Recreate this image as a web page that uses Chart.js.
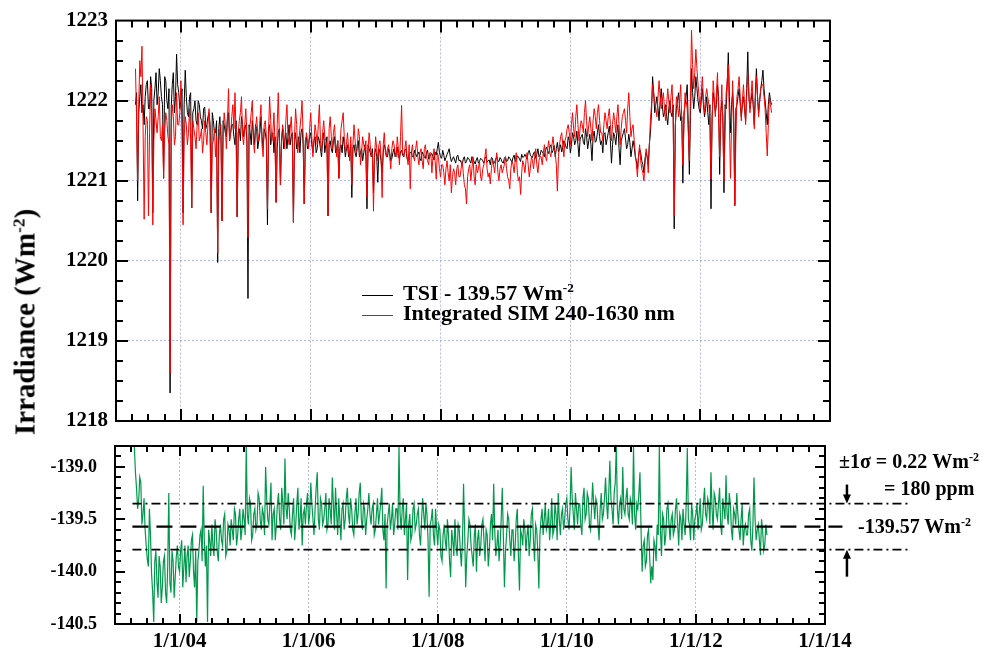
<!DOCTYPE html>
<html>
<head>
<meta charset="utf-8">
<script src="https://cdn.jsdelivr.net/npm/chart.js@4.4.1/dist/chart.umd.min.js"></script>
<style>
  html, body { margin: 0; padding: 0; background: #fff; }
  body { width: 1008px; height: 654px; position: relative; overflow: hidden;
         font-family: "Liberation Serif", "Times New Roman", serif; font-weight: bold; color: #000; }
  canvas { position: absolute; left: 0; top: 0; }
  .txt { position: absolute; white-space: nowrap; line-height: 1; }
  .txt sup { font-size: 0.6em; vertical-align: 0.6em; line-height: 0; }
  .key { position: absolute; height: 0; width: 31px; }
</style>
</head>
<body>
<canvas id="topChart" width="1008" height="654"></canvas>
<canvas id="diffChart" width="1008" height="654"></canvas>

<div class="txt" id="ytitle" style="font-size:29px;left:24.5px;top:322px;transform:translate(-50%,-50%) rotate(-90deg);">Irradiance (Wm<sup>-2</sup>)</div>

<div class="key" style="left:362px;top:295px;border-top:1px solid #000;"></div>
<div class="txt" style="font-size:22px;left:403px;top:282px;">TSI - 139.57 Wm<sup>-2</sup></div>
<div class="key" style="left:362px;top:315px;border-top:1px solid #f00;"></div>
<div class="txt" style="font-size:22px;left:403px;top:302px;">Integrated SIM 240-1630 nm</div>

<div class="txt" style="font-size:20px;left:839px;top:451px;">±1σ = 0.22 Wm<sup>-2</sup></div>
<div class="txt" style="font-size:20px;left:884px;top:478px;">= 180 ppm</div>
<div class="txt" style="font-size:20px;left:858px;top:516px;">-139.57 Wm<sup>-2</sup></div>

<script>
// sample times: every 1/30 year from spring 2003, plus the half-way samples (…Mid arrays)
const t0 = 2003.30;
const dt = 1 / 30;

// TSI minus 139.57 (black)
const tsi = [
1221.95,1220.75,1222.05,1221.85,1221.70,1222.20,1221.90,1222.30,1220.60,1222.15,
1221.95,1222.40,1222.05,1221.03,1222.25,1221.90,1218.35,1222.20,1221.85,1222.58,
1222.10,1222.00,1220.60,1222.38,1221.85,1222.05,1220.66,1221.90,1221.75,1222.00,
1221.80,1221.65,1221.92,1221.70,1221.85,1220.60,1221.75,1221.60,1219.98,1221.80,
1220.50,1221.70,1221.55,1221.85,1221.60,1221.70,1221.45,1220.55,1221.65,1221.80,
1221.55,1221.70,1219.53,1221.60,1221.75,1221.45,1221.65,1221.50,1221.80,1221.40,
1221.60,1220.45,1221.70,1221.55,1221.35,1220.73,1221.60,1220.95,1221.65,1221.50,
1221.40,1221.70,1221.55,1220.48,1221.60,1221.45,1221.35,1221.65,1220.71,1221.55,
1221.45,1221.60,1221.35,1221.55,1221.40,1221.50,1221.30,1221.60,1221.45,1220.56,
1221.50,1221.35,1221.55,1221.40,1221.03,1221.45,1221.55,1221.30,1221.45,1221.35,
1220.79,1221.45,1221.30,1221.50,1221.35,1221.25,1221.45,1220.65,1221.40,1221.30,
1220.85,1221.40,1220.98,1221.35,1221.10,1221.45,1221.30,1221.40,1221.25,1221.35,
1221.30,1221.42,1221.28,1221.38,1221.30,1221.40,1221.25,1221.35,1221.30,1221.38,
1221.30,1221.36,1221.25,1221.33,1221.28,1221.38,1221.30,1221.34,1221.26,1221.32,
1221.48,1221.30,1221.38,1221.25,1221.33,1221.40,1221.24,1221.30,1221.22,1221.32,
1221.26,1221.20,1221.30,1221.24,1221.28,1221.22,1221.27,1221.21,1221.29,1221.24,
1221.27,1221.22,1221.30,1221.25,1221.20,1221.28,1221.23,1221.30,1221.24,1221.27,
1221.22,1221.30,1221.25,1221.28,1221.23,1221.32,1221.26,1221.30,1221.24,1221.29,
1221.33,1221.27,1221.38,1221.30,1221.35,1221.28,1221.40,1221.32,1221.36,1221.30,
1221.42,1221.34,1221.45,1221.38,1221.30,1221.48,1221.40,1221.36,1221.50,1221.42,
1221.55,1221.35,1221.60,1221.45,1221.62,1221.30,1221.55,1221.48,1221.65,1221.40,
1221.58,1221.25,1221.62,1221.50,1221.70,1221.45,1221.35,1221.60,1221.52,1221.68,
1221.22,1221.60,1221.45,1221.70,1221.20,1221.55,1221.65,1221.40,1221.58,1221.30,
1221.50,1221.30,1221.15,1221.40,1221.25,1221.10,1221.35,1221.20,1221.60,1222.30,
1221.85,1222.05,1221.75,1222.15,1221.80,1221.95,1221.70,1222.00,1221.80,1220.40,
1221.90,1222.10,1221.75,1220.97,1221.95,1222.20,1221.08,1222.40,1221.90,1222.30,
1222.00,1221.85,1222.15,1221.80,1222.05,1221.70,1220.65,1222.10,1221.85,1222.20,
1221.08,1222.00,1220.85,1221.90,1222.60,1221.60,1222.10,1220.69,1221.95,1222.15,
1221.80,1222.05,1221.75,1222.61,1221.90,1222.10,1221.70,1222.40,1221.85,1222.15,
1222.38,1222.00,1221.70,1222.10,1221.95
];
const tsiMid = [
1222.10,1221.85,1222.20,1221.95,1222.05,1222.25,1221.90,1222.15,1222.00,1222.35,
1222.10,1222.25,1221.95,1222.30,1222.00,1222.15,1221.90,1222.35,1222.05,1222.20,
1221.90,1222.15,1221.95,1222.05,1221.80,1222.10,1221.85,1222.00,1221.70,1221.95,
1221.75,1221.90,1221.65,1221.80,1221.70,1221.85,1221.60,1221.75,1221.65,1221.55,
1221.75,1221.60,1221.80,1221.50,1221.70,1221.55,1221.75,1221.60,1221.50,1221.70,
1221.65,1221.50,1221.70,1221.45,1221.60,1221.70,1221.40,1221.60,1221.55,1221.65,
1221.50,1221.65,1221.45,1221.60,1221.55,1221.40,1221.65,1221.50,1221.40,1221.60,
1221.55,1221.45,1221.60,1221.50,1221.40,1221.55,1221.60,1221.45,1221.50,1221.40,
1221.55,1221.45,1221.50,1221.35,1221.55,1221.40,1221.50,1221.35,1221.55,1221.45,
1221.40,1221.50,1221.35,1221.50,1221.40,1221.35,1221.45,1221.40,1221.30,1221.45,
1221.40,1221.35,1221.45,1221.30,1221.40,1221.35,1221.30,1221.45,1221.35,1221.40,
1221.35,1221.30,1221.40,1221.25,1221.35,1221.40,1221.30,1221.35,1221.28,1221.40,
1221.35,1221.30,1221.36,1221.32,1221.38,1221.28,1221.33,1221.36,1221.30,1221.34,
1221.33,1221.28,1221.36,1221.30,1221.35,1221.27,1221.33,1221.30,1221.36,1221.40,
1221.35,1221.28,1221.32,1221.29,1221.36,1221.30,1221.27,1221.26,1221.30,1221.25,
1221.23,1221.27,1221.22,1221.29,1221.25,1221.30,1221.24,1221.26,1221.22,1221.28,
1221.25,1221.28,1221.23,1221.26,1221.29,1221.21,1221.27,1221.25,1221.29,1221.23,
1221.28,1221.24,1221.30,1221.26,1221.29,1221.24,1221.31,1221.27,1221.33,1221.30,
1221.30,1221.35,1221.32,1221.29,1221.36,1221.33,1221.30,1221.38,1221.34,1221.39,
1221.37,1221.42,1221.35,1221.44,1221.40,1221.36,1221.45,1221.42,1221.47,1221.40,
1221.50,1221.45,1221.55,1221.50,1221.45,1221.52,1221.58,1221.45,1221.55,1221.50,
1221.45,1221.55,1221.48,1221.60,1221.55,1221.50,1221.58,1221.45,1221.60,1221.50,
1221.45,1221.55,1221.60,1221.40,1221.50,1221.60,1221.52,1221.45,1221.48,1221.40,
1221.42,1221.25,1221.30,1221.35,1221.20,1221.28,1221.30,1221.45,1221.85,1222.10,
1221.95,1221.90,1222.00,1221.95,1221.85,1221.80,1221.90,1221.85,1221.95,1221.70,
1222.00,1221.90,1221.80,1221.85,1222.05,1221.70,1221.80,1222.10,1222.05,1222.15,
1221.90,1222.00,1221.95,1221.90,1221.85,1221.95,1221.80,1222.00,1221.95,1222.05,
1221.85,1221.80,1221.95,1222.20,1222.05,1221.95,1221.85,1221.90,1222.05,1221.95,
1221.95,1221.90,1222.15,1222.05,1222.00,1221.95,1222.10,1222.05,1222.00,1222.25,
1222.15,1221.85,1221.95,1222.00
];

// Integrated SIM 240-1630 nm (red)
const sim = [
1222.40,1221.00,1222.50,1222.68,1220.52,1221.80,1220.56,1222.20,1220.45,1221.90,
1221.60,1222.05,1221.50,1221.03,1221.85,1221.55,1218.60,1221.95,1221.45,1222.10,
1221.70,1222.25,1220.45,1221.80,1221.45,1221.90,1220.66,1221.65,1221.40,1221.85,
1221.55,1221.35,1221.75,1221.45,1221.90,1220.60,1221.50,1221.30,1220.10,1221.65,
1220.50,1221.85,1221.40,1222.15,1221.60,1221.95,1222.10,1220.55,1221.75,1222.05,
1221.45,1221.90,1220.29,1221.70,1222.00,1221.35,1221.80,1221.50,1221.95,1221.30,
1221.75,1220.65,1222.05,1221.50,1221.85,1220.73,1222.10,1220.95,1221.70,1221.40,
1221.95,1221.45,1221.80,1220.48,1221.90,1221.35,1221.65,1222.00,1220.71,1221.60,
1221.40,1221.85,1221.30,1221.70,1221.45,1221.95,1221.35,1221.75,1221.50,1220.56,
1221.80,1221.40,1221.70,1221.30,1221.03,1221.65,1221.85,1221.35,1221.60,1221.25,
1220.95,1221.70,1221.35,1221.65,1221.20,1221.55,1221.40,1220.80,1221.60,1221.30,
1220.62,1221.55,1221.25,1221.50,1220.79,1221.60,1221.30,1221.45,1221.15,1221.50,
1221.35,1221.55,1221.20,1221.94,1221.30,1221.50,1221.20,1220.90,1221.45,1221.25,
1221.50,1221.20,1221.40,1221.15,1221.45,1221.25,1221.35,1221.10,1221.40,1221.02,
1221.30,1221.05,1221.20,1220.95,1221.25,1221.00,1220.85,1221.15,1220.95,1221.20,
1221.05,1221.25,1220.95,1220.71,1221.15,1221.00,1221.30,1220.95,1221.10,1221.25,
1221.00,1221.20,1221.40,1221.05,1220.96,1221.25,1221.10,1221.35,1221.00,1221.20,
1221.15,1221.30,1221.05,1220.90,1221.25,1221.10,1221.35,1221.00,1220.83,1221.25,
1221.10,1221.35,1221.05,1221.30,1221.15,1221.40,1221.10,1221.30,1221.20,1221.45,
1221.25,1221.50,1221.30,1221.55,1221.35,1220.87,1221.45,1221.60,1221.30,1221.55,
1221.70,1221.45,1221.85,1221.55,1221.95,1221.50,1221.75,1221.60,1222.00,1221.55,
1221.80,1221.50,1221.90,1221.65,1221.95,1221.60,1221.50,1221.85,1221.65,1221.90,
1221.50,1221.85,1221.60,1221.95,1221.45,1221.80,1221.90,1221.60,1222.10,1221.55,
1221.70,1221.35,1221.05,1221.45,1221.15,1221.00,1221.40,1221.10,1221.75,1222.20,
1222.00,1221.80,1222.25,1221.90,1222.10,1221.75,1222.15,1221.85,1222.20,1220.56,
1222.05,1221.80,1222.20,1221.20,1222.10,1221.90,1221.25,1222.88,1222.15,1222.64,
1222.20,1221.90,1222.30,1221.85,1222.15,1221.95,1221.02,1222.25,1221.80,1222.35,
1221.30,1222.20,1221.00,1222.10,1222.45,1221.03,1222.25,1220.69,1222.05,1222.30,
1221.75,1222.20,1221.70,1222.35,1221.85,1222.25,1221.65,1222.30,1221.80,1222.15,
1222.20,1221.90,1221.31,1222.05,1221.85
];
const simMid = [
1221.80,1221.95,1222.30,1221.70,1221.55,1221.75,1221.60,1221.85,1221.50,1221.75,
1221.80,1221.55,1221.70,1221.60,1221.75,1221.45,1221.65,1221.80,1221.55,1221.70,
1221.85,1221.60,1221.55,1221.70,1221.60,1221.50,1221.75,1221.55,1221.70,1221.50,
1221.65,1221.50,1221.60,1221.70,1221.55,1221.45,1221.65,1221.55,1221.45,1221.70,
1221.55,1221.70,1221.75,1221.50,1221.80,1221.65,1221.55,1221.60,1221.85,1221.55,
1221.70,1221.60,1221.55,1221.85,1221.50,1221.65,1221.60,1221.75,1221.45,1221.70,
1221.55,1221.60,1221.75,1221.60,1221.45,1221.70,1221.55,1221.50,1221.60,1221.75,
1221.55,1221.65,1221.50,1221.55,1221.70,1221.50,1221.80,1221.55,1221.45,1221.50,
1221.65,1221.55,1221.50,1221.60,1221.70,1221.50,1221.60,1221.55,1221.40,1221.65,
1221.55,1221.60,1221.45,1221.50,1221.40,1221.75,1221.55,1221.45,1221.40,1221.55,
1221.45,1221.50,1221.40,1221.55,1221.35,1221.45,1221.50,1221.40,1221.45,1221.35,
1221.30,1221.40,1221.45,1221.30,1221.45,1221.35,1221.40,1221.30,1221.40,1221.45,
1221.30,1221.40,1221.55,1221.35,1221.40,1221.30,1221.45,1221.35,1221.30,1221.40,
1221.30,1221.35,1221.25,1221.40,1221.30,1221.20,1221.35,1221.30,1221.25,1221.35,
1221.15,1221.20,1221.10,1221.15,1221.10,1221.20,1221.05,1221.10,1221.15,1221.05,
1221.15,1221.10,1220.90,1221.05,1221.20,1221.15,1221.05,1221.20,1221.15,1221.05,
1221.15,1221.30,1221.15,1221.10,1221.15,1221.20,1221.25,1221.10,1221.15,1221.10,
1221.20,1221.15,1221.00,1221.15,1221.20,1221.25,1221.10,1221.05,1221.10,1221.20,
1221.25,1221.20,1221.15,1221.25,1221.30,1221.20,1221.25,1221.30,1221.35,1221.30,
1221.40,1221.35,1221.45,1221.40,1221.20,1221.30,1221.55,1221.45,1221.50,1221.65,
1221.60,1221.70,1221.65,1221.80,1221.70,1221.65,1221.70,1221.85,1221.75,1221.70,
1221.65,1221.75,1221.80,1221.85,1221.75,1221.60,1221.70,1221.75,1221.80,1221.70,
1221.70,1221.75,1221.80,1221.70,1221.65,1221.85,1221.75,1221.90,1221.80,1221.65,
1221.50,1221.20,1221.30,1221.25,1221.10,1221.20,1221.30,1221.45,1221.95,1222.10,
1221.90,1222.05,1222.05,1222.00,1221.90,1221.95,1222.00,1222.05,1221.80,1221.65,
1221.95,1222.00,1221.75,1221.70,1222.00,1221.60,1222.10,1222.45,1222.35,1222.40,
1222.05,1222.10,1222.00,1222.05,1222.05,1221.75,1221.70,1222.05,1222.10,1221.85,
1221.80,1221.65,1221.60,1222.25,1221.75,1221.70,1221.65,1221.55,1222.15,1222.05,
1222.00,1221.95,1222.05,1222.10,1222.05,1221.95,1222.00,1222.05,1222.00,1222.20,
1222.05,1221.60,1221.70,1221.95
];

// SIM minus TSI difference (green)
const diff = [
-138.81,-139.20,-139.32,-139.15,-139.45,-139.60,-139.88,-139.40,-140.02,-140.48,
-139.80,-140.25,-139.95,-140.15,-139.85,-140.30,-139.25,-140.20,-139.90,-140.05,
-139.75,-140.00,-139.70,-139.95,-140.10,-139.75,-139.90,-139.65,-140.15,-140.48,
-139.80,-139.60,-139.18,-139.95,-140.48,-139.70,-139.55,-139.85,-139.60,-139.90,
-139.55,-139.75,-139.45,-139.80,-139.60,-139.50,-139.70,-139.45,-139.65,-139.40,
-139.60,-139.50,-138.80,-139.55,-139.35,-139.65,-139.40,-139.55,-139.30,-139.60,
-139.45,-139.00,-139.50,-139.35,-139.70,-139.40,-139.55,-139.25,-139.60,-139.35,
-138.92,-139.50,-139.40,-139.65,-139.30,-139.55,-139.20,-139.50,-139.75,-139.40,
-139.35,-139.55,-139.15,-139.50,-139.40,-139.05,-139.60,-139.35,-139.50,-139.25,
-139.55,-139.40,-139.10,-139.60,-139.45,-139.30,-139.70,-139.35,-139.50,-139.20,
-139.55,-139.40,-139.65,-139.30,-139.45,-139.15,-139.60,-139.40,-139.50,-139.25,
-139.55,-139.35,-139.60,-139.30,-139.45,-139.20,-139.70,-140.16,-139.45,-139.60,
-139.35,-139.55,-139.40,-138.80,-139.60,-139.30,-139.50,-140.08,-139.45,-139.65,
-139.35,-139.55,-139.40,-139.75,-139.30,-139.60,-139.45,-140.24,-139.50,-139.65,
-139.40,-139.75,-139.60,-139.90,-139.55,-139.80,-139.65,-140.05,-139.70,-139.50,
-139.85,-139.60,-139.95,-139.16,-140.15,-139.70,-139.55,-139.85,-139.65,-140.00,
-139.60,-139.75,-139.50,-139.90,-139.65,-139.80,-139.45,-139.16,-139.85,-139.60,
-139.75,-139.20,-140.15,-139.65,-139.50,-139.85,-139.60,-139.75,-139.40,-140.18,
-139.65,-139.50,-139.80,-139.55,-139.70,-139.40,-139.90,-139.60,-140.16,-139.50,
-139.65,-139.35,-139.55,-139.70,-139.30,-139.60,-139.45,-139.25,-139.65,-139.40,
-139.50,-139.30,-139.60,-139.00,-139.45,-139.25,-139.55,-139.35,-139.65,-139.20,
-139.45,-139.30,-139.60,-139.15,-139.50,-139.35,-139.70,-139.25,-139.45,-139.10,
-139.50,-138.94,-139.40,-139.25,-138.80,-139.55,-139.30,-139.00,-139.45,-139.20,
-139.50,-139.35,-138.80,-139.60,-139.40,-139.05,-140.00,-139.70,-139.90,-139.60,
-140.11,-140.08,-139.75,-139.55,-138.80,-139.85,-139.50,-139.65,-139.35,-139.70,
-139.45,-139.60,-139.30,-139.75,-139.50,-139.40,-139.65,-138.82,-139.55,-139.35,
-139.70,-139.45,-139.60,-139.30,-139.55,-139.20,-139.50,-139.35,-139.05,-139.60,
-139.30,-139.50,-139.20,-139.65,-139.40,-139.08,-139.55,-139.35,-139.70,-139.45,
-139.25,-139.60,-139.50,-139.75,-139.55,-139.65,-139.40,-139.80,-139.10,-139.70,
-139.55,-139.84,-139.60,-139.75,-139.65
];
const diffMid = [
-139.05,-139.40,-139.10,-139.55,-139.30,-139.75,-139.95,-139.65,-140.20,-139.90,
-140.10,-139.85,-140.30,-139.90,-140.20,-139.95,-140.10,-139.80,-140.25,-139.85,
-139.95,-139.80,-140.15,-139.75,-139.85,-140.05,-139.70,-140.00,-139.80,-139.90,
-139.65,-139.90,-139.70,-139.75,-139.60,-139.85,-139.75,-139.50,-139.80,-139.65,
-139.70,-139.50,-139.85,-139.55,-139.75,-139.60,-139.40,-139.75,-139.50,-139.70,
-139.40,-139.65,-139.45,-139.30,-139.70,-139.45,-139.60,-139.25,-139.50,-139.40,
-139.65,-139.30,-139.55,-139.15,-139.45,-139.70,-139.35,-139.50,-139.20,-139.55,
-139.40,-139.25,-139.60,-139.45,-139.70,-139.35,-139.60,-139.30,-139.45,-139.55,
-139.25,-139.45,-139.35,-139.65,-139.20,-139.50,-139.30,-139.55,-139.40,-139.60,
-139.30,-139.55,-139.35,-139.20,-139.65,-139.50,-139.40,-139.60,-139.30,-139.45,
-139.30,-139.60,-139.45,-139.55,-139.25,-139.50,-139.35,-139.65,-139.40,-139.45,
-139.40,-139.65,-139.45,-139.55,-139.35,-139.60,-139.45,-139.55,-139.35,-139.50,
-139.65,-139.40,-139.60,-139.45,-139.40,-139.65,-139.35,-139.55,-139.70,-139.40,
-139.60,-139.45,-139.65,-139.50,-139.45,-139.35,-139.70,-139.55,-139.40,-139.75,
-139.60,-139.55,-139.85,-139.65,-139.70,-139.50,-139.90,-139.60,-139.85,-139.75,
-139.55,-139.80,-139.70,-139.60,-139.85,-139.50,-139.75,-139.95,-139.55,-139.70,
-139.85,-139.55,-139.70,-139.60,-139.95,-139.55,-139.70,-139.60,-139.75,-139.90,
-139.50,-139.65,-139.80,-139.45,-139.70,-139.60,-139.90,-139.50,-139.85,-139.60,
-139.75,-139.60,-139.65,-139.85,-139.45,-139.70,-139.55,-139.80,-139.65,-139.40,
-139.50,-139.60,-139.40,-139.55,-139.65,-139.35,-139.70,-139.50,-139.45,-139.60,
-139.35,-139.50,-139.40,-139.30,-139.60,-139.40,-139.35,-139.55,-139.30,-139.50,
-139.25,-139.55,-139.40,-139.35,-139.30,-139.55,-139.40,-139.50,-139.30,-139.35,
-139.25,-139.30,-139.55,-139.15,-139.40,-139.35,-139.50,-139.40,-139.30,-139.45,
-139.30,-139.55,-139.45,-139.35,-139.25,-139.60,-139.75,-139.95,-139.65,-139.85,
-139.95,-139.70,-139.90,-139.65,-139.60,-139.45,-139.75,-139.40,-139.55,-139.50,
-139.65,-139.40,-139.55,-139.45,-139.70,-139.55,-139.35,-139.50,-139.70,-139.45,
-139.50,-139.35,-139.45,-139.60,-139.35,-139.45,-139.30,-139.55,-139.40,-139.25,
-139.45,-139.35,-139.55,-139.30,-139.50,-139.45,-139.25,-139.60,-139.40,-139.55,
-139.45,-139.70,-139.35,-139.60,-139.65,-139.45,-139.70,-139.55,-139.50,-139.60,
-139.70,-139.50,-139.80,-139.55
];

const topYTicks = [1218, 1219, 1220, 1221, 1222, 1223];
const diffYTicks = [-140.5, -140.0, -139.5, -139.0];
const yearTicks = [2004, 2006, 2008, 2010, 2012, 2014];
const meanDiff = -139.57;
const sigma = 0.22;

const times = tsi.map((_, i) => t0 + i * dt);
// interleave the main samples with the half-way samples
function pts(arr, mid) {
    const out = [];
    arr.forEach((v, i) => {
        out.push({ x: times[i], y: v });
        if (i < mid.length) out.push({ x: times[i] + dt / 2, y: mid[i] });
    });
    return out;
}

const gridBlue = 'rgba(110,120,255,0.55)';
const none = 'rgba(0,0,0,0)';
const serif = '"Liberation Serif", "Times New Roman", serif';

// inward tick marks + frame, drawn from the scales
const frameTicks = {
    id: 'frameTicks',
    afterDraw(chart, args, o) {
        const { ctx, chartArea: a, scales: { x, y } } = chart;
        ctx.save();
        ctx.strokeStyle = '#000';
        ctx.lineWidth = 2;
        ctx.beginPath();
        for (let q = 1; q < 44; q++) {
            const px = Math.round(x.getPixelForValue(2003 + q / 4));
            const len = q % 8 === 4 ? o.major : o.minor;
            ctx.moveTo(px, a.bottom); ctx.lineTo(px, a.bottom - len);
            ctx.moveTo(px, a.top); ctx.lineTo(px, a.top + len);
        }
        for (let q = 1; q < o.yCount; q++) {
            const py = Math.round(y.getPixelForValue(o.yMin + q * o.yStep));
            const len = q % o.yMajorEvery === 0 ? o.major : o.minor;
            ctx.moveTo(a.left, py); ctx.lineTo(a.left + len, py);
            ctx.moveTo(a.right, py); ctx.lineTo(a.right - len, py);
        }
        ctx.stroke();
        ctx.strokeRect(a.left, a.top, a.right - a.left, a.bottom - a.top);
        ctx.restore();
    }
};

// mean and +-1 sigma reference lines with arrows
const sigmaLines = {
    id: 'sigmaLines',
    afterDatasetsDraw(chart) {
        const { ctx, scales: { x, y } } = chart;
        const x0 = x.getPixelForValue(2003.27);
        const xEnd = x.getPixelForValue(2015.29);
        const xMeanEnd = x.getPixelForValue(2014.27);
        const xArrow = x.getPixelForValue(2014.34);
        const yUp = y.getPixelForValue(meanDiff + sigma);
        const yMean = y.getPixelForValue(meanDiff);
        const yLo = y.getPixelForValue(meanDiff - sigma);
        ctx.save();
        ctx.strokeStyle = '#000';
        ctx.lineWidth = 1.6;
        ctx.setLineDash([9, 4, 2, 4]);
        ctx.beginPath();
        ctx.moveTo(x0, yUp); ctx.lineTo(xEnd, yUp);
        ctx.moveTo(x0, yLo); ctx.lineTo(xEnd, yLo);
        ctx.stroke();
        ctx.lineWidth = 2.4;
        ctx.setLineDash([16, 8]);
        ctx.beginPath();
        ctx.moveTo(x0, yMean); ctx.lineTo(xMeanEnd, yMean);
        ctx.stroke();
        ctx.setLineDash([]);
        ctx.lineWidth = 2.5;
        ctx.fillStyle = '#000';
        // down arrow onto upper line
        ctx.beginPath();
        ctx.moveTo(xArrow, yUp - 19); ctx.lineTo(xArrow, yUp - 8);
        ctx.stroke();
        ctx.beginPath();
        ctx.moveTo(xArrow - 4, yUp - 9); ctx.lineTo(xArrow + 4, yUp - 9); ctx.lineTo(xArrow, yUp);
        ctx.closePath(); ctx.fill();
        // up arrow onto lower line
        ctx.beginPath();
        ctx.moveTo(xArrow, yLo + 27); ctx.lineTo(xArrow, yLo + 8);
        ctx.stroke();
        ctx.beginPath();
        ctx.moveTo(xArrow - 4, yLo + 9); ctx.lineTo(xArrow + 4, yLo + 9); ctx.lineTo(xArrow, yLo);
        ctx.closePath(); ctx.fill();
        ctx.restore();
    }
};

const topChart = new Chart(document.getElementById('topChart'), {
    type: 'line',
    data: {
        datasets: [
            { label: 'Integrated SIM 240-1630 nm', data: pts(sim, simMid), borderColor: '#ff0000', borderWidth: 1, pointRadius: 0, tension: 0 },
            { label: 'TSI - 139.57 Wm-2', data: pts(tsi, tsiMid), borderColor: '#000000', borderWidth: 1, pointRadius: 0, tension: 0 }
        ]
    },
    options: {
        responsive: false,
        animation: false,
        events: [],
        layout: { padding: { left: 0, top: 19, right: 178, bottom: 233 } },
        plugins: {
            legend: { display: false },
            tooltip: { enabled: false },
            frameTicks: { major: 12, minor: 7, yMin: 1218, yStep: 0.25, yCount: 20, yMajorEvery: 4 }
        },
        scales: {
            x: {
                type: 'linear', min: 2003, max: 2014,
                afterBuildTicks: s => { s.ticks = yearTicks.slice(0, 5).map(v => ({ value: v })); },
                afterFit: s => { s.height = 0; },
                ticks: { display: false },
                grid: { color: gridBlue, lineWidth: 1, drawTicks: false },
                border: { display: false, dash: [2, 2] }
            },
            y: {
                min: 1218, max: 1223,
                afterBuildTicks: s => { s.ticks = topYTicks.map(v => ({ value: v })); },
                afterFit: s => { s.width = 116; },
                ticks: { callback: v => String(v), color: '#000', padding: 8, font: { family: serif, size: 21, weight: 'bold' } },
                grid: { color: c => (c.tick && c.tick.value > 1218 && c.tick.value < 1223) ? gridBlue : none, lineWidth: 1, drawTicks: false },
                border: { display: false, dash: [2, 2] }
            }
        }
    },
    plugins: [frameTicks]
});

const diffChart = new Chart(document.getElementById('diffChart'), {
    type: 'line',
    data: {
        datasets: [
            { label: 'SIM - TSI', data: pts(diff, diffMid), borderColor: '#00994c', borderWidth: 1.2, pointRadius: 0, tension: 0 }
        ]
    },
    options: {
        responsive: false,
        animation: false,
        events: [],
        layout: { padding: { left: 0, top: 446, right: 183, bottom: 0 } },
        plugins: {
            legend: { display: false },
            tooltip: { enabled: false },
            frameTicks: { major: 10, minor: 6, yMin: -140.5, yStep: 0.1, yCount: 17, yMajorEvery: 5 }
        },
        scales: {
            x: {
                type: 'linear', min: 2003, max: 2014,
                afterBuildTicks: s => { s.ticks = yearTicks.map(v => ({ value: v })); },
                afterFit: s => { s.height = 30; },
                ticks: {
                    callback: v => '1/1/' + String(v).slice(2),
                    autoSkip: false, maxRotation: 0, color: '#000', padding: 5,
                    font: { family: serif, size: 21, weight: 'bold' }
                },
                grid: { color: c => (c.tick && c.tick.value < 2014) ? gridBlue : none, lineWidth: 1, drawTicks: false },
                border: { display: false, dash: [2, 2] }
            },
            y: {
                min: -140.5, max: -138.8,
                afterBuildTicks: s => { s.ticks = diffYTicks.map(v => ({ value: v })); },
                afterFit: s => { s.width = 115; },
                ticks: { callback: v => v.toFixed(1), color: '#000', padding: 10, font: { family: serif, size: 18, weight: 'bold' } },
                grid: { display: false },
                border: { display: false }
            }
        }
    },
    plugins: [frameTicks, sigmaLines]
});
</script>
</body>
</html>
